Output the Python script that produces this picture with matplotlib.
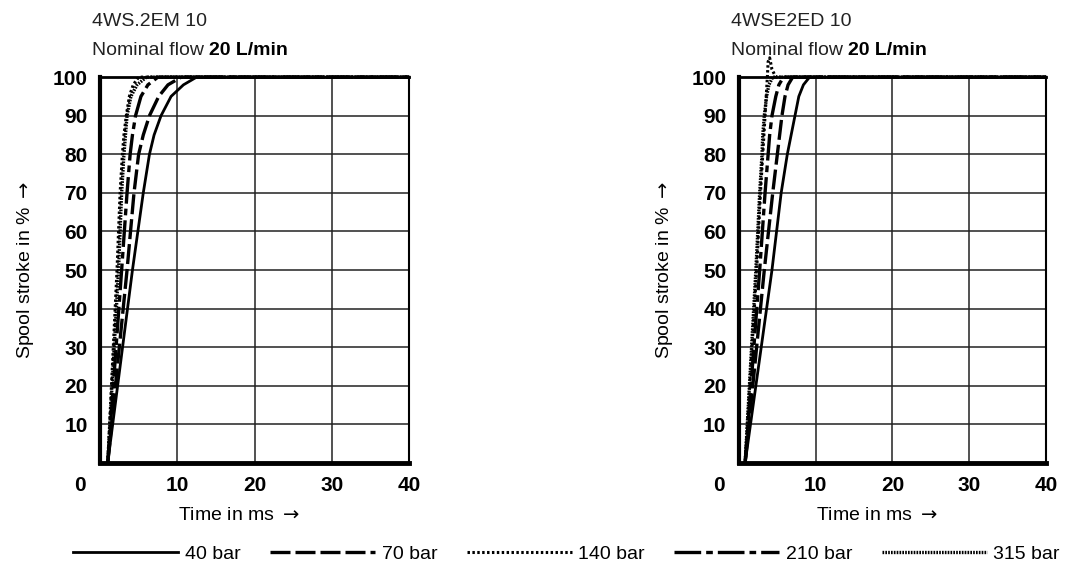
import matplotlib
matplotlib.use("Agg")
import matplotlib.pyplot as plt
import matplotlib.transforms as mtransforms
from matplotlib.lines import Line2D

plt.rcParams['font.family'] = ['Liberation Sans', 'DejaVu Sans']

# data (time in ms vs spool stroke in %)
pressures = ["40 bar", "70 bar", "140 bar", "210 bar", "315 bar"]

stroke = [0, 50, 70, 80, 85, 90, 95, 98, 100, 100]

left_title = "4WS.2EM 10"
left_s = {p: stroke for p in pressures}
left_t = {
    "40 bar":  [1.0, 4.2, 5.6, 6.4, 7.0, 7.9, 9.2, 10.8, 12.5, 40],
    "70 bar":  [1.0, 3.5, 4.4, 5.0, 5.6, 6.4, 7.6, 8.8, 10.5, 40],
    "140 bar": [1.0, 2.2, 2.6, 2.9, 3.1, 3.4, 3.8, 4.3, 5.0, 40],
    "210 bar": [1.0, 2.8, 3.5, 3.9, 4.2, 4.6, 5.3, 6.2, 7.5, 40],
    "315 bar": [1.0, 2.4, 2.8, 3.1, 3.3, 3.5, 4.0, 4.8, 6.0, 40],
}

right_title = "4WSE2ED 10"
right_s = {p: stroke for p in pressures}
right_s["140 bar"] = [0, 50, 70, 80, 90, 100, 104, 105, 102, 100, 100]
right_t = {
    "40 bar":  [0.8, 4.3, 5.5, 6.3, 6.8, 7.3, 7.8, 8.4, 9.2, 40],
    "70 bar":  [0.8, 3.3, 4.4, 5.0, 5.3, 5.6, 6.0, 6.4, 7.0, 40],
    "140 bar": [0.8, 2.3, 2.8, 3.1, 3.4, 3.7, 3.8, 4.0, 4.3, 4.8, 40],
    "210 bar": [0.8, 2.7, 3.4, 3.8, 4.0, 4.3, 4.8, 5.2, 5.8, 40],
    "315 bar": [0.8, 2.2, 2.7, 3.0, 3.1, 3.3, 3.6, 3.9, 4.4, 40],
}

xticks = [0, 10, 20, 30, 40]
yticks = [10, 20, 30, 40, 50, 60, 70, 80, 90, 100]

styles = {
    "40 bar":  dict(ls="-", lw=2.0),
    "70 bar":  dict(ls=(0, (6, 1.5)), lw=2.4),
    "140 bar": dict(ls=(0, (0.8, 0.8)), lw=2.2),
    "210 bar": dict(ls=(0, (8, 1.5, 2, 1.5)), lw=2.4),
    "315 bar": dict(ls=(0, (0.5, 0.35)), lw=2.4),
}

fig = plt.figure(figsize=(10.73, 5.70), dpi=100)
ax1 = fig.add_axes([0.0932, 0.1877, 0.288, 0.677])
ax2 = fig.add_axes([0.6887, 0.1877, 0.286, 0.677])

for ax, ts, ss, title in [(ax1, left_t, left_s, left_title),
                          (ax2, right_t, right_s, right_title)]:
    for p in pressures:
        ax.plot(ts[p], ss[p], color="black", clip_on=False, **styles[p])
    ax.set_xlim(0, 40); ax.set_ylim(0, 100)
    ax.set_xticks(xticks); ax.set_yticks(yticks)
    ax.grid(True, color="#222222", lw=1.1)
    ax.tick_params(length=0, labelsize=15, pad=9)
    for lab in ax.get_xticklabels() + ax.get_yticklabels():
        lab.set_fontweight("bold")
    # origin label sits left of the corner
    off = mtransforms.ScaledTranslation(-20 / 100, 0, fig.dpi_scale_trans)
    ax.get_xticklabels()[0].set_transform(ax.get_xticklabels()[0].get_transform() + off)
    ax.spines["left"].set_linewidth(3.0)
    ax.spines["bottom"].set_linewidth(3.5)
    ax.spines["top"].set_linewidth(2.0)
    ax.spines["right"].set_linewidth(1.5)
    ax.set_ylabel(r"Spool stroke in % $\rightarrow$", fontsize=14, labelpad=12)
    ax.set_xlabel(r"Time in ms $\rightarrow$", fontsize=14)
    ax.xaxis.set_label_coords(0.45, -0.115)
    ax.text(-0.026, 1.133, title, transform=ax.transAxes, fontsize=14,
            color="#222222", va="baseline")
    t2 = ax.text(-0.026, 1.058, "Nominal flow ", transform=ax.transAxes, fontsize=14,
                 color="#222222", va="baseline")
    ax.annotate("20 L/min", xy=(1, 0), xycoords=t2, va="bottom", fontsize=14,
                fontweight="bold", color="black")

handles = [Line2D([], [], color="black", **styles[p]) for p in pressures]
fig.legend(handles, pressures, loc="lower center", bbox_to_anchor=(0.528, -0.018), ncol=5,
           frameon=False, fontsize=14, handlelength=5.4, handletextpad=0.35,
           columnspacing=1.5)

fig.savefig("out.png", dpi=100)
